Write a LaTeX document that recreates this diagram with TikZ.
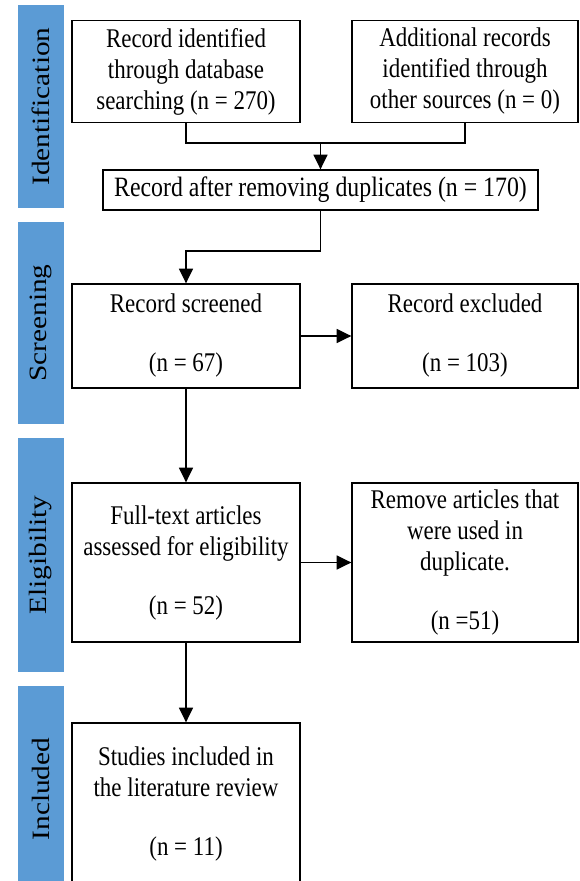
\documentclass[tikz,border=0pt]{standalone}
\usepackage{fontspec}
\usepackage{graphicx}
\setmainfont{Liberation Serif}[FakeStretch=0.85]
\newfontfamily\stagefont{Liberation Serif}
\usetikzlibrary{arrows.meta}
\definecolor{stageblue}{HTML}{5B9BD5}
\newcommand{\stagelabel}[1]{\rotatebox{90}{\scalebox{1}[0.85]{\stagefont\fontsize{22pt}{26pt}\selectfont #1}}}

\begin{document}
\begin{tikzpicture}[x=0.75pt,y=-0.75pt,
        box/.style={draw, line width=1pt, align=center, inner sep=0pt,
            font=\fontsize{20.25pt}{23.25pt}\selectfont},
        stage/.style={fill=stageblue, inner sep=0pt, minimum width=34.5pt},
        flow/.style={line width=1pt, -{Triangle[length=11pt,width=10.5pt]}}]

        \useasboundingbox (0,0) rectangle (579,881);

        % stage bars
        \node[stage, minimum height=152.25pt] (ident) at (41,106.5) {\stagelabel{Identification}};
        \node[stage, minimum height=151.5pt] (screen) at (41,323) {\stagelabel{Screening}};
        \node[stage, minimum height=175.5pt] (elig) at (41,555) {\stagelabel{Eligibility}};
        \node[stage, minimum height=154.5pt] (incl) at (41,789) {\stagelabel{Included}};

        % boxes
        \node[box, minimum width=171pt, minimum height=76.5pt] (db) at (186,71.5)
            {Record identified\\through database\\searching (n = 270)};
        \node[box, minimum width=169.5pt, minimum height=76.5pt] (other) at (465,71.5)
            {Additional records\\identified through\\other sources (n = 0)};
        \node[box, minimum width=326.25pt, minimum height=30pt, font=\fontsize{21pt}{24pt}\selectfont] (dup) at (320.5,190)
            {Record after removing duplicates (n = 170)};

        \node[box, minimum width=171pt, minimum height=78pt] (screened) at (186,336)
            {Record screened\\[21pt](n = 67)};
        \node[box, minimum width=169.5pt, minimum height=78pt] (excl) at (465,336)
            {Record excluded\\[21pt](n = 103)};

        \node[box, minimum width=171pt, minimum height=119.25pt] (full) at (186,562.5)
            {Full-text articles\\assessed for eligibility\\[21pt](n = 52)};
        \node[box, minimum width=169.5pt, minimum height=119.25pt] (removed) at (465,562.5)
            {Remove articles that\\were used in\\duplicate.\\[21pt](n =51)};

        \node[box, minimum width=171pt, minimum height=120.75pt] (studies) at (186,803.5)
            {Studies included in\\the literature review\\[21pt](n = 11)};

        % connectors
        \coordinate (join) at (320.5,143);
        \coordinate (bend) at (186,251);
        \draw[line width=1pt] (db.south) |- (join) -| (other.south);
        \draw[flow] (join) -- (dup.north);
        \draw[flow] (dup.south) |- (bend) -- (screened.north);
        \draw[flow] (screened.east) -- (excl.west);
        \draw[flow] (screened.south) -- (full.north);
        \draw[flow] (full.east) -- (removed.west);
        \draw[flow] (full.south) -- (studies.north);
    \end{tikzpicture}
\end{document}
